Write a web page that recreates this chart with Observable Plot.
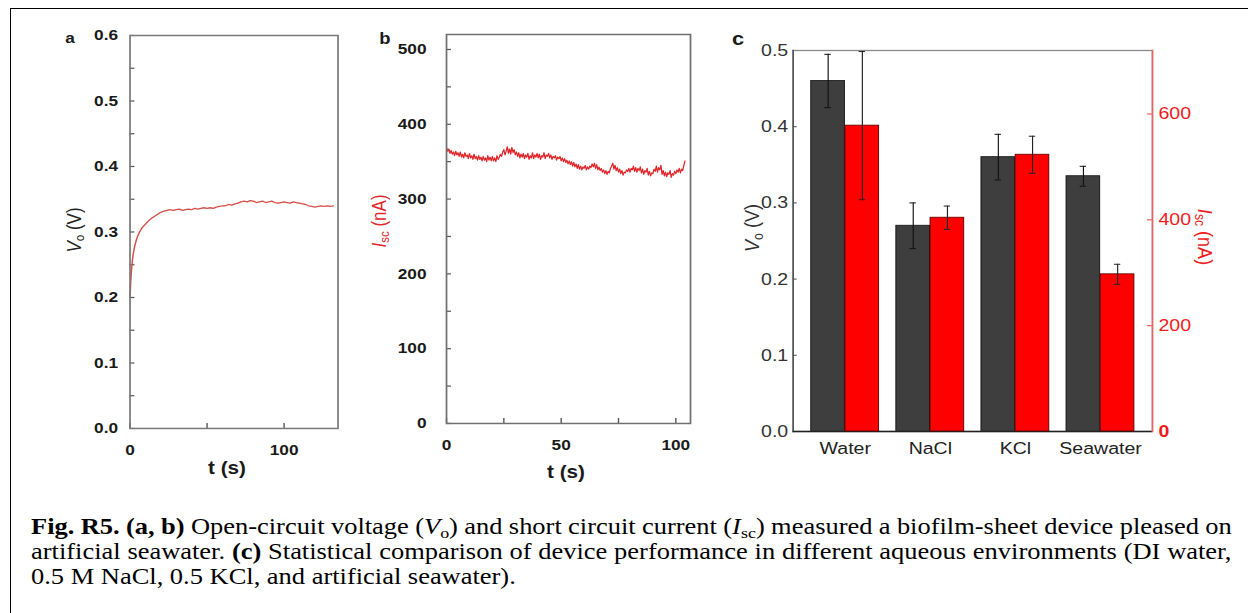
<!DOCTYPE html>
<html><head><meta charset="utf-8">
<script src="https://cdn.jsdelivr.net/npm/d3@7"></script>
<script src="https://cdn.jsdelivr.net/npm/@observablehq/plot@0.6"></script>
<style>
html,body{margin:0;padding:0;background:#fff;}
body{width:1248px;height:613px;overflow:hidden;position:relative;}
#fig{position:absolute;left:0;top:0;width:1100px;height:613px;transform-origin:0 0;font-family:"Liberation Sans",Arial,sans-serif;}
#fig svg{position:absolute;overflow:visible;background:transparent;}
.lbl{position:absolute;white-space:nowrap;transform:translate(-50%,-50%);line-height:1;}
.rl{transform:translate(-50%,-50%) rotate(-90deg);}
.rr{transform:translate(-50%,-50%) rotate(90deg);}
sub{font-size:0.68em;vertical-align:-0.25em;line-height:0;}
#cap{position:absolute;font-family:"Liberation Serif","Times New Roman",serif;font-size:23px;line-height:25px;color:#000;}
#cap div{white-space:nowrap;}
#bt{position:absolute;left:10px;top:8px;width:1238px;height:0;border-top:1.6px solid #000;}
#bl{position:absolute;left:10px;top:8px;width:0;height:605px;border-left:1.6px solid #000;}
</style></head><body>
<div id="bt"></div><div id="bl"></div>
<div id="fig"></div>
<script>
// ---------- data ----------
// Panel a: open-circuit voltage vs time
const tA = [0,0.5,1,1.5,2,3,4,5,6,7,8,10,12,14,16,18,20,22,24,26,28,30,32,34,36,38,40,42,44,46,48,50,52,54,56,58,60,62,64,66,68,70,72,74,76,78,80,82,84,86,88,90,92,94,96,98,100,102,104,106,108,110,112,114,116,118,120,122,124,126,128,130,132];
const vA = [0.200,0.226,0.243,0.256,0.265,0.278,0.287,0.294,0.299,0.303,0.307,0.312,0.317,0.321,0.324,0.327,0.330,0.332,0.333,0.334,0.333,0.334,0.335,0.333,0.334,0.335,0.334,0.336,0.335,0.336,0.337,0.336,0.337,0.336,0.338,0.339,0.340,0.340,0.342,0.341,0.343,0.344,0.346,0.347,0.346,0.348,0.347,0.345,0.346,0.347,0.345,0.346,0.347,0.345,0.344,0.345,0.346,0.345,0.344,0.346,0.345,0.344,0.343,0.342,0.340,0.339,0.338,0.339,0.340,0.339,0.340,0.339,0.340];
const aYTicks = [0,0.1,0.2,0.3,0.4,0.5,0.6];
const aYMinor = [0.05,0.15,0.25,0.35,0.45,0.55];
const aXTicks = [0,100];
const aXMinor = [50];

// Panel b: short-circuit current vs time (0.5 s samples)
const bStep = 0.5;
const iB = [
  369,364,367,361,365,360,363,358,364,359,
  362,357,363,356,360,355,362,357,359,354,
  361,355,358,353,360,354,357,352,358,353,
  356,351,357,352,355,350,358,352,356,351,
  357,351,355,350,358,353,356,360,357,363,
  366,359,364,370,361,367,360,369,362,366,
  359,363,357,362,355,360,356,361,354,359,
  356,361,353,358,355,362,354,359,356,361,
  355,360,353,358,356,362,354,359,357,361,
  355,359,353,357,355,358,352,356,354,357,
  351,355,350,354,349,352,347,351,346,350,
  344,349,343,347,341,346,340,344,339,343,
  341,345,339,343,340,344,342,347,343,348,
  341,346,339,343,338,341,336,339,334,338,
  333,337,335,341,344,348,340,345,338,342,
  336,340,334,338,332,336,335,339,337,341,
  336,341,339,344,337,342,336,341,338,343,
  335,340,333,338,336,341,332,337,331,335,
  334,340,337,344,336,342,339,345,333,338,
  331,336,330,335,333,338,329,334,332,337,
  334,339,336,341,335,340,338,345,351
];
const bYTicks = [0,100,200,300,400,500];
const bYMinor = [50,150,250,350,450];
const bXTicks = [0,50,100];
const bXMinor = [25,75];

// Panel c: statistics per environment
const cats = ["Water","NaCl","KCl","Seawater"];
const vocMean = [0.46,0.27,0.36,0.335];
const vocErr = [0.035,0.03,0.03,0.013];
const iscMean = [578,404,523,297];
const iscErr = [140,22,35,19];
const cLeftTicks = [0,0.1,0.2,0.3,0.4,0.5];
const cRightTicks = [200,400,600];

// ---------- layout ----------
const S = 1.15;               // horizontal stretch of the reference
const X = v => v / S;
const fig = document.getElementById("fig");
fig.style.transform = `scaleX(${S})`;
const FONT = "Liberation Sans, Arial, sans-serif";

function place(svg, left, top) {
  svg.style.left = X(left) + "px";
  svg.style.top = top + "px";
  fig.appendChild(svg);
}
function label(html, x, y, css, cls) {
  const d = document.createElement("div");
  d.className = "lbl " + (cls || "");
  d.innerHTML = html;
  d.style.left = X(x) + "px";
  d.style.top = y + "px";
  Object.assign(d.style, css);
  fig.appendChild(d);
}

// ---------- panel a ----------
{
  const L = {left:50, top:20, w:300, h:470, mL:80, mR:12, mT:15, mB:62};
  const fw = X(L.w - L.mL - L.mR), fh = L.h - L.mT - L.mB;
  const data = tA.map((t, i) => ({t, v: vA[i]}));
  const p = Plot.plot({
    width: X(L.w), height: L.h,
    marginLeft: X(L.mL), marginRight: X(L.mR), marginTop: L.mT, marginBottom: L.mB,
    style: {fontFamily: FONT, background: "transparent", overflow: "visible"},
    x: {domain: [0, 135]},
    y: {domain: [0, 0.6]},
    marks: [
      Plot.tickY(aYTicks.concat(aYMinor), {y: d => d, insetRight: fw - X(5), stroke: "#555", strokeWidth: 1.2}),
      Plot.tickX(aXTicks.concat(aXMinor), {x: d => d, insetTop: fh - 5, stroke: "#555", strokeWidth: 1.2}),
      Plot.line(data, {x: "t", y: "v", stroke: "#d4504a", strokeWidth: 1.3}),
      Plot.frame({stroke: "#7a7a7a", strokeWidth: 1.5}),
      Plot.axisY(aYTicks, {tickSize: 0, tickPadding: X(12), tickFormat: d => d.toFixed(1), fontSize: 15, fontWeight: "bold", fill: "#1a1a1a", label: null}),
      Plot.axisX(aXTicks, {tickSize: 0, tickPadding: 16, tickFormat: d => String(d), fontSize: 15, fontWeight: "bold", fill: "#1a1a1a", label: null})
    ]
  });
  place(p, L.left, L.top);
  label("a", 70, 37, {fontSize: "15px", fontWeight: "bold", color: "#1a1a1a"});
  label("<i>V</i><sub>o</sub> (V)", 75, 230, {fontSize: "17px", color: "#222"}, "rl");
  label("t (s)", 227, 468, {fontSize: "18px", fontWeight: "bold", color: "#1a1a1a"});
}

// ---------- panel b ----------
{
  const L = {left:360, top:20, w:340, h:470, mL:86, mR:10, mT:14, mB:67};
  const fw = X(L.w - L.mL - L.mR), fh = L.h - L.mT - L.mB;
  const data = iB.map((v, i) => ({t: i * bStep, v}));
  const p = Plot.plot({
    width: X(L.w), height: L.h,
    marginLeft: X(L.mL), marginRight: X(L.mR), marginTop: L.mT, marginBottom: L.mB,
    style: {fontFamily: FONT, background: "transparent", overflow: "visible"},
    x: {domain: [0, 106.4]},
    y: {domain: [0, 520]},
    marks: [
      Plot.tickY(bYTicks.concat(bYMinor), {y: d => d, insetRight: fw - X(5), stroke: "#555", strokeWidth: 1.2}),
      Plot.tickX(bXTicks.concat(bXMinor), {x: d => d, insetTop: fh - 5, stroke: "#555", strokeWidth: 1.2}),
      Plot.line(data, {x: "t", y: "v", stroke: "#e0262a", strokeWidth: 1.1}),
      Plot.frame({stroke: "#6f6f6f", strokeWidth: 1.5}),
      Plot.axisY(bYTicks, {tickSize: 0, tickPadding: X(20), tickFormat: d => String(d), fontSize: 15, fontWeight: "bold", fill: "#1a1a1a", label: null}),
      Plot.axisX(bXTicks, {tickSize: 0, tickPadding: 16, tickFormat: d => String(d), fontSize: 15, fontWeight: "bold", fill: "#1a1a1a", label: null})
    ]
  });
  place(p, L.left, L.top);
  label("b", 385, 39, {fontSize: "16px", fontWeight: "bold", color: "#1a1a1a"});
  label("<i>I</i><sub>sc</sub> (nA)", 380, 221, {fontSize: "17px", color: "#e0262a"}, "rl");
  label("t (s)", 566, 472, {fontSize: "18px", fontWeight: "bold", color: "#1a1a1a"});
}

// ---------- panel c ----------
{
  const L = {left:720, top:20, w:520, h:460, mL:72.7, mR:88, mT:30, mB:49};
  const fw = X(L.w - L.mL - L.mR), fh = L.h - L.mT - L.mB;
  const bw = fw / 4.2 * 0.8;           // band width of each category group
  const cap = X(7);
  const common = {
    width: X(L.w), height: L.h,
    marginLeft: X(L.mL), marginRight: X(L.mR), marginTop: L.mT, marginBottom: L.mB,
    style: {fontFamily: FONT, background: "transparent", overflow: "visible"}
  };
  const dV = cats.map((c, i) => ({c, v: vocMean[i], e: vocErr[i]}));
  const dI = cats.map((c, i) => ({c, v: iscMean[i], e: iscErr[i]}));

  const p1 = Plot.plot({
    ...common,
    x: {domain: cats, paddingInner: 0.2, paddingOuter: 0.2},
    y: {domain: [0, 0.5]},
    marks: [
      Plot.barY(dV, {x: "c", y: "v", fill: "#3e3e3e", stroke: "#111", strokeWidth: 0.8, insetRight: bw / 2}),
      Plot.ruleX(dV, {x: "c", y1: d => d.v - d.e, y2: d => d.v + d.e, dx: -bw / 4, stroke: "#111", strokeWidth: 1}),
      Plot.tickY(dV, {x: "c", y: d => d.v + d.e, insetLeft: bw / 4 - cap / 2, insetRight: 3 * bw / 4 - cap / 2, stroke: "#111"}),
      Plot.tickY(dV, {x: "c", y: d => d.v - d.e, insetLeft: bw / 4 - cap / 2, insetRight: 3 * bw / 4 - cap / 2, stroke: "#111"}),
      Plot.tickY(cLeftTicks, {y: d => d, insetRight: fw - X(4), stroke: "#444"}),
      Plot.frame({stroke: "#8a8a8a", strokeWidth: 1.3}),
      Plot.frame({anchor: "left", stroke: "#555", strokeWidth: 1.4}),
      Plot.ruleY([0], {stroke: "#222", strokeWidth: 1.6}),
      Plot.axisY(cLeftTicks, {tickSize: 0, tickPadding: X(5), tickFormat: d => d.toFixed(1), fontSize: 17, fill: "#333", label: null}),
      Plot.axisX(cats, {tickSize: 0, tickPadding: 10, fontSize: 17, fill: "#222", label: null})
    ]
  });
  place(p1, L.left, L.top);

  const p2 = Plot.plot({
    ...common,
    x: {domain: cats, paddingInner: 0.2, paddingOuter: 0.2, axis: null},
    y: {domain: [0, 720]},
    marks: [
      Plot.barY(dI, {x: "c", y: "v", fill: "#ff0000", stroke: "#5a0000", strokeWidth: 0.8, insetLeft: bw / 2}),
      Plot.ruleX(dI, {x: "c", y1: d => d.v - d.e, y2: d => d.v + d.e, dx: bw / 4, stroke: "#222", strokeWidth: 1}),
      Plot.tickY(dI, {x: "c", y: d => d.v + d.e, insetLeft: 3 * bw / 4 - cap / 2, insetRight: bw / 4 - cap / 2, stroke: "#222"}),
      Plot.tickY(dI, {x: "c", y: d => d.v - d.e, insetLeft: 3 * bw / 4 - cap / 2, insetRight: bw / 4 - cap / 2, stroke: "#222"}),
      Plot.tickY(cRightTicks, {y: d => d, insetLeft: fw - X(5), stroke: "#f04040"}),
      Plot.frame({anchor: "right", stroke: "#f06060", strokeWidth: 1.3}),
      Plot.axisY(cRightTicks, {anchor: "right", tickSize: 0, tickPadding: X(6), tickFormat: d => String(d), fontSize: 17, fill: "#ee1c1c", label: null}),
      Plot.axisY([0], {anchor: "right", tickSize: 0, tickPadding: X(6), tickFormat: d => String(d), fontSize: 17, fontWeight: "bold", fill: "#ee1c1c", label: null})
    ]
  });
  place(p2, L.left, L.top);

  label("c", 738, 38, {fontSize: "19px", fontWeight: "bold", color: "#1a1a1a"});
  label("<i>V</i><sub>o</sub> (V)", 752, 228, {fontSize: "18px", color: "#333"}, "rl");
  label("<i>I</i><sub>sc</sub> (nA)", 1205, 237, {fontSize: "18px", color: "#ee1c1c"}, "rr");
}

// ---------- caption ----------
{
  const capEl = document.createElement("div");
  capEl.id = "cap";
  capEl.style.left = X(31) + "px";
  capEl.style.top = "514px";
  capEl.innerHTML =
    '<div><span><b>Fig. R5. (a, b)</b> Open-circuit voltage (<i>V</i><sub>o</sub>) and short circuit current (<i>I</i><sub>sc</sub>) measured a biofilm-sheet device pleased on</span></div>' +
    '<div><span>artificial seawater. <b>(c)</b> Statistical comparison of device performance in different aqueous environments (DI water,</span></div>' +
    '<div><span>0.5 M NaCl, 0.5 KCl, and artificial seawater).</span></div>';
  fig.appendChild(capEl);
  const target = X(1201);
  const spans = capEl.querySelectorAll("span");
  [0, 1].forEach(k => {
    const sp = spans[k];
    const w = sp.offsetWidth;
    const n = (sp.textContent.match(/ /g) || []).length;
    sp.style.wordSpacing = ((target - w) / n) + "px";
  });
}
</script></body></html>
